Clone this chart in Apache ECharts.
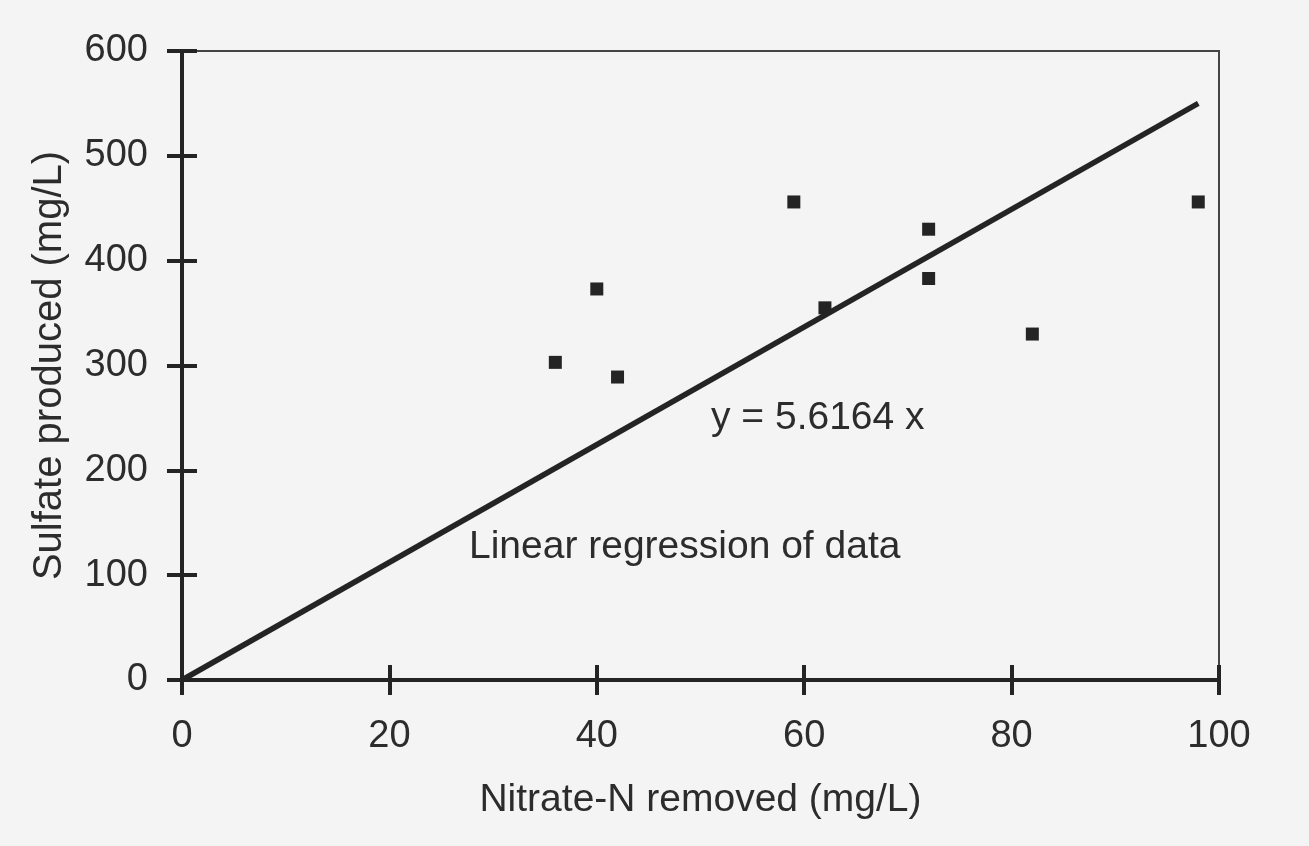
<!DOCTYPE html>
<html>
<head>
<meta charset="utf-8">
<script src="https://cdn.jsdelivr.net/npm/echarts@6/dist/echarts.min.js"></script>
<style>
  html, body { margin: 0; padding: 0; background: #f4f4f4; }
  #chart-container { width: 1309px; height: 846px; }
</style>
</head>
<body>
<div id="chart-container"></div>
<script>
// Punti misurati
const nitrateRemoved = [36, 40, 42, 59, 62, 72, 72, 82, 98];
const sulfateProduced = [303, 373, 289, 456, 355, 430, 383, 330, 456];

// Retta di regressione y = 5.6164 x (estremi)
const regressionX = [0, 98];
const regressionY = [0, 550];

const xTicks = { min: 0, max: 100, interval: 20 };
const yTicks = { min: 0, max: 600, interval: 100 };

const ink = '#242424';
const textInk = '#2c2c2c';
const font = "'Liberation Sans', Arial, sans-serif";

const myChart = echarts.init(document.getElementById('chart-container'));

// asse "gemello" solo per le tacche interne (le tacche attraversano l'asse)
const innerTicks = {
	axisLine: { show: false },
	axisLabel: { show: false },
	splitLine: { show: false },
	axisTick: { show: true, inside: true, length: 15, lineStyle: { color: ink, width: 4 } }
};

const option = {
	backgroundColor: '#f4f4f4',
	animation: false,
	grid: {
		left: 182, right: 90, top: 51, bottom: 166,
		show: true,
		borderColor: '#444',
		borderWidth: 2,
		backgroundColor: 'transparent'
	},
	xAxis: [{
		type: 'value',
		position: 'bottom',
		...xTicks,
		name: 'Nitrate-N removed (mg/L)',
		nameLocation: 'middle',
		nameGap: 101,
		nameTextStyle: { fontFamily: font, fontSize: 39, color: textInk },
		axisLine: { show: true, lineStyle: { color: ink, width: 4 } },
		axisTick: { show: true, length: 15, lineStyle: { color: ink, width: 4 } },
		axisLabel: { margin: 38, fontFamily: font, fontSize: 38, color: textInk },
		splitLine: { show: false }
	}, {
		type: 'value',
		position: 'bottom',
		...xTicks,
		...innerTicks
	}],
	yAxis: [{
		type: 'value',
		position: 'left',
		...yTicks,
		name: 'Sulfate produced (mg/L)',
		nameLocation: 'middle',
		nameGap: 112,
		nameTextStyle: { fontFamily: font, fontSize: 40, color: textInk },
		axisLine: { show: true, lineStyle: { color: ink, width: 4 } },
		axisTick: { show: true, length: 15, lineStyle: { color: ink, width: 4 } },
		axisLabel: { margin: 34, fontFamily: font, fontSize: 38, color: textInk },
		splitLine: { show: false }
	}, {
		type: 'value',
		position: 'left',
		...yTicks,
		...innerTicks
	}],
	graphic: [{
		type: 'text',
		x: 711, y: 418,
		style: { text: 'y = 5.6164 x', font: '39px ' + font, fill: textInk, textVerticalAlign: 'middle' }
	}, {
		type: 'text',
		x: 469, y: 547,
		style: { text: 'Linear regression of data', font: '39px ' + font, fill: textInk, textVerticalAlign: 'middle' }
	}],
	series: [{
		name: 'Regression',
		type: 'line',
		data: regressionX.map((x, i) => [x, regressionY[i]]),
		symbol: 'none',
		lineStyle: { color: ink, width: 5.5 },
		z: 2
	}, {
		name: 'Data',
		type: 'scatter',
		data: nitrateRemoved.map((x, i) => [x, sulfateProduced[i]]),
		symbol: 'rect',
		symbolSize: 13,
		itemStyle: { color: ink, opacity: 1 },
		z: 3
	}]
};

myChart.setOption(option);
</script>
</body>
</html>
